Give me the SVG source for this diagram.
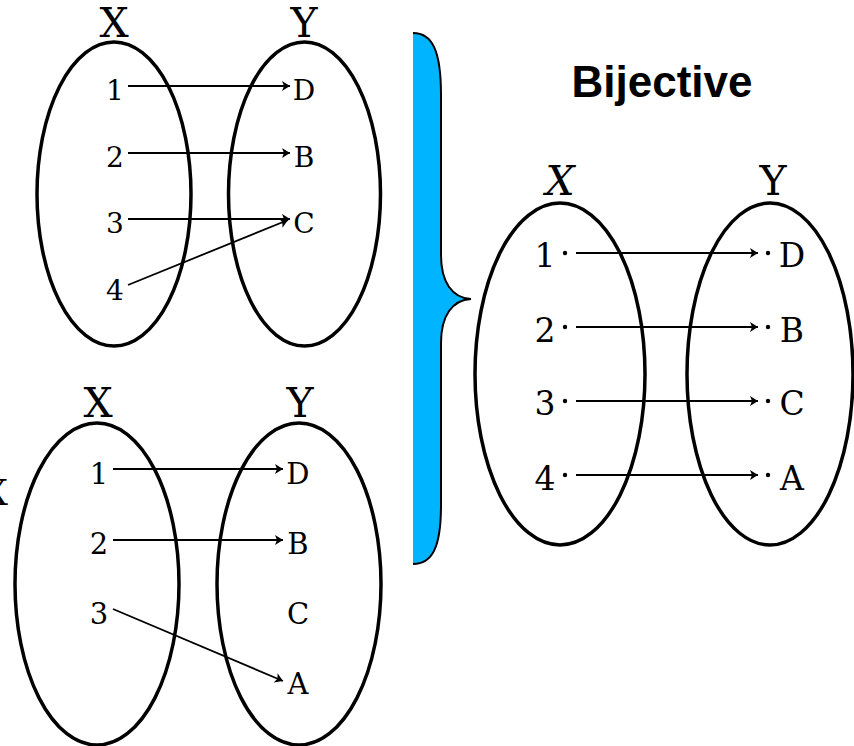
<svg xmlns="http://www.w3.org/2000/svg" width="854" height="746" viewBox="0 0 854 746">
<style>
.set{fill:none;stroke:#000;stroke-width:3.5}
.lbl{font-family:"DejaVu Serif",serif;fill:#000;text-anchor:middle}
.big{font-size:41px}
.sm{font-size:28px}
.sb{font-size:29px}
.md{font-size:33px}
.arr{fill:none;stroke:#000;stroke-width:1.8;marker-end:url(#ah)}
</style>
<defs>
<marker id="ah" markerUnits="userSpaceOnUse" markerWidth="12" markerHeight="12" viewBox="-9 -6 10 12" refX="0" refY="0" orient="auto" overflow="visible">
<path d="M0,0 L-8,-5 L-6,0 L-8,5 Z" fill="#000"/>
</marker>
</defs>
<rect width="854" height="746" fill="#fff"/>

<g id="diagram-top">
<ellipse class="set" cx="114" cy="194" rx="77" ry="152"/>
<ellipse class="set" cx="304.5" cy="194" rx="76" ry="152"/>
<text class="lbl big" x="114" y="37">X</text>
<text class="lbl big" x="304" y="37">Y</text>
<text class="lbl sm" x="115" y="100">1</text>
<text class="lbl sm" x="115" y="167">2</text>
<text class="lbl sm" x="115" y="233">3</text>
<text class="lbl sm" x="115" y="300">4</text>
<text class="lbl sm" x="304" y="100">D</text>
<text class="lbl sm" x="304" y="167">B</text>
<text class="lbl sm" x="304" y="233">C</text>
</g>

<g id="diagram-bottom">
<ellipse class="set" cx="97" cy="584" rx="82" ry="161"/>
<ellipse class="set" cx="299" cy="584" rx="82" ry="161"/>
<text class="lbl big" x="98" y="417">X</text>
<text class="lbl big" x="300" y="417">Y</text>
<text class="lbl sb" x="99" y="484">1</text>
<text class="lbl sb" x="99" y="554">2</text>
<text class="lbl sb" x="99" y="624">3</text>
<text class="lbl sb" x="298" y="484">D</text>
<text class="lbl sb" x="298" y="554">B</text>
<text class="lbl sb" x="298" y="624">C</text>
<text class="lbl sb" x="298" y="694">A</text>
</g>

<g id="left-fragment">
<text class="lbl" style="font-size:36px;text-anchor:end" x="8" y="505">X</text>
</g>

<g id="brace">
<path d="M413,33 C432,33 441,50 441,95 L441,255 C441,282 452,298 471,299 C452,300 441,316 441,343 L441,505 C441,548 432,564 413,564 Z" fill="#00b4ff"/>
<path d="M413,33 C432,33 441,50 441,95 L441,255 C441,282 452,298 471,299 C452,300 441,316 441,343 L441,505 C441,548 432,564 413,564" fill="none" stroke="#000" stroke-width="2"/>
</g>

<g id="title">
<text x="662" y="97" style="font-family:'Liberation Sans',Arial,sans-serif;font-weight:bold;font-size:44px;text-anchor:middle">Bijective</text>
</g>

<g id="diagram-right">
<ellipse class="set" cx="560" cy="374" rx="85" ry="171"/>
<ellipse class="set" cx="770" cy="374" rx="83" ry="171"/>
<text class="lbl big" x="560" y="195" font-style="italic">X</text>
<text class="lbl big" x="773" y="195">Y</text>
<text class="lbl md" x="545" y="267">1</text>
<text class="lbl md" x="545" y="342">2</text>
<text class="lbl md" x="545" y="415">3</text>
<text class="lbl md" x="545" y="490">4</text>
<text class="lbl md" x="792" y="267">D</text>
<text class="lbl md" x="792" y="342">B</text>
<text class="lbl md" x="792" y="415">C</text>
<text class="lbl md" x="792" y="490">A</text>
<g fill="#000">
<circle cx="565" cy="253" r="2.2"/><circle cx="768" cy="253" r="2.2"/>
<circle cx="565" cy="327" r="2.2"/><circle cx="768" cy="327" r="2.2"/>
<circle cx="565" cy="401" r="2.2"/><circle cx="768" cy="401" r="2.2"/>
<circle cx="565" cy="475" r="2.2"/><circle cx="768" cy="475" r="2.2"/>
</g>
</g>

<g id="connectors">
<path class="arr" d="M128,86 L290,86"/>
<path class="arr" d="M128,153 L290,153"/>
<path class="arr" d="M128,219 L290,219"/>
<path class="arr" d="M128,285 L288,220"/>
<path class="arr" d="M113,469 L283,469"/>
<path class="arr" d="M113,540 L283,540"/>
<path class="arr" d="M113,609 L283,681"/>
<path class="arr" d="M576,253 L758,253"/>
<path class="arr" d="M576,327 L758,327"/>
<path class="arr" d="M576,401 L758,401"/>
<path class="arr" d="M576,475 L758,475"/>
</g>
</svg>
